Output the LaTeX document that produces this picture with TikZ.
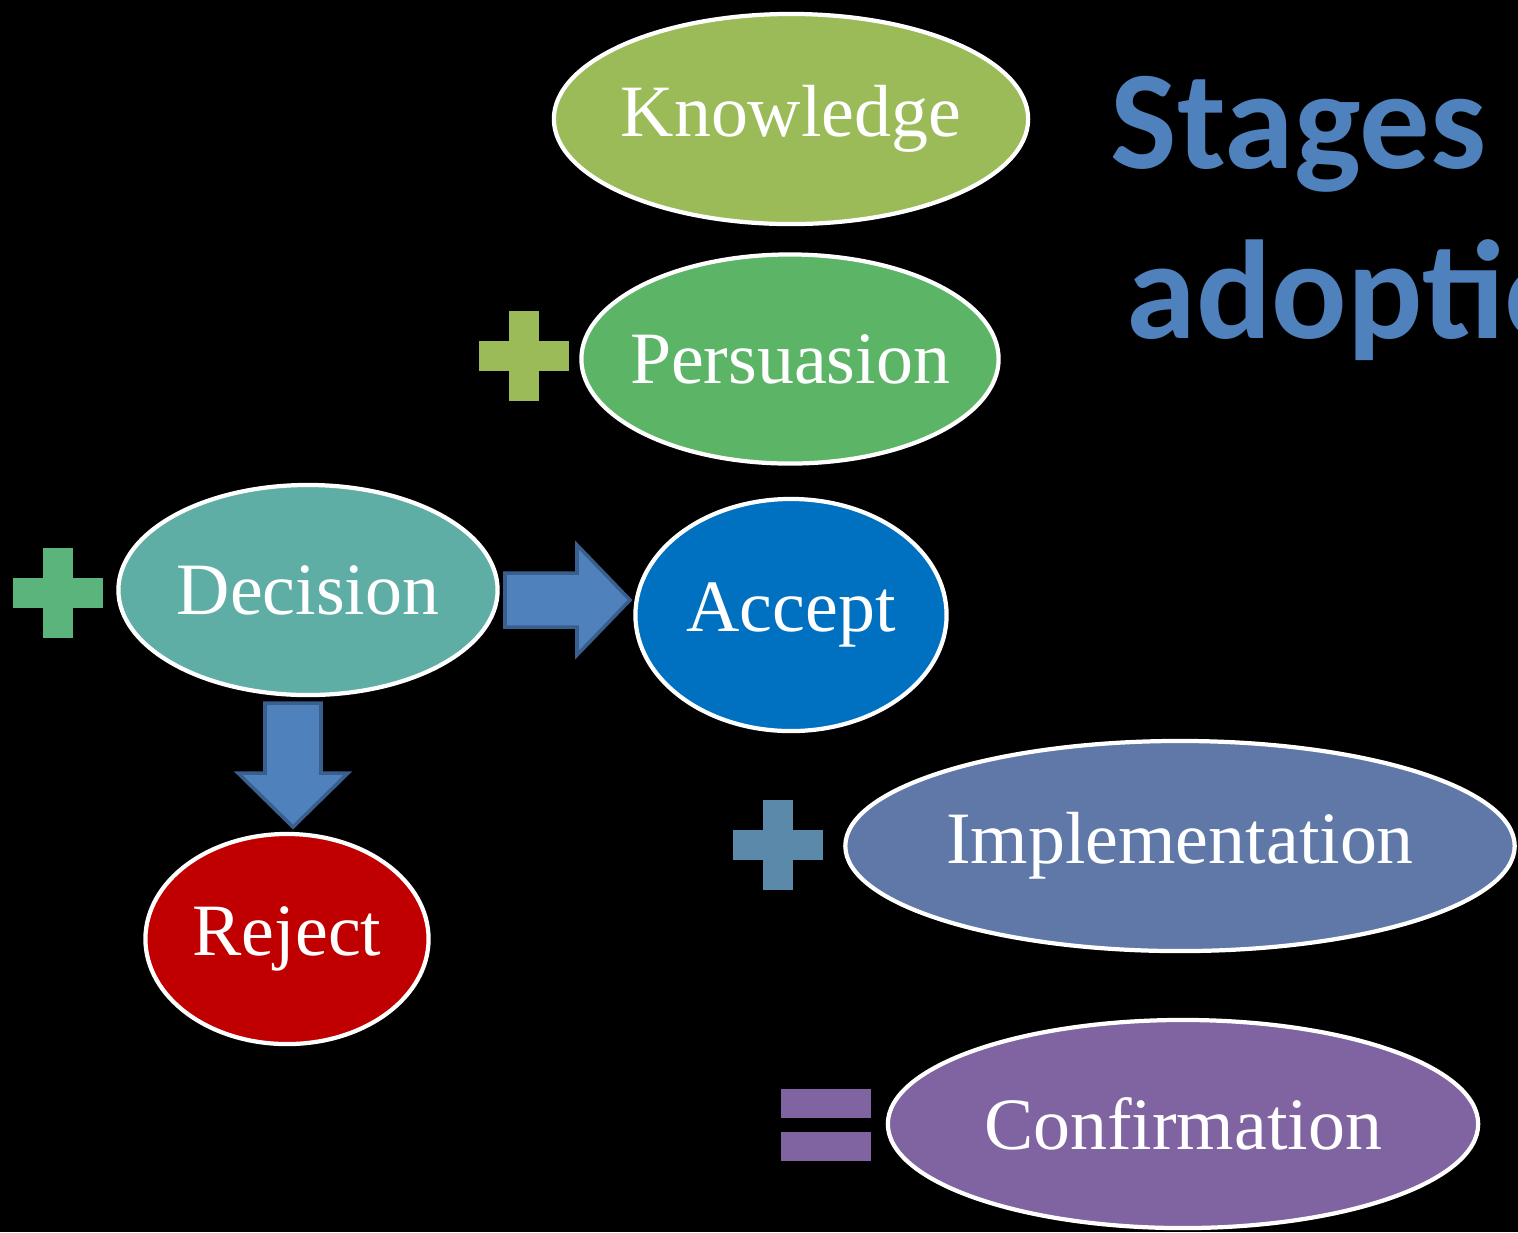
\documentclass[tikz,border=0pt]{standalone}
\usepackage{fontspec}
\setmainfont{Liberation Serif}
\newfontfamily\titlefont{Carlito}
\usetikzlibrary{shapes.geometric}

\definecolor{knowcol}{HTML}{9BBB59}
\definecolor{perscol}{HTML}{5CB467}
\definecolor{deccol}{HTML}{5FAEA6}
\definecolor{acccol}{HTML}{0070C0}
\definecolor{rejcol}{HTML}{C00000}
\definecolor{implcol}{HTML}{5F78A8}
\definecolor{confcol}{HTML}{8064A2}
\definecolor{plusgreen}{HTML}{5BB47B}
\definecolor{plussteel}{HTML}{5B89AA}
\definecolor{arrowblue}{HTML}{4F81BD}
\definecolor{arrowedge}{HTML}{3A5F8E}
\definecolor{titleblue}{HTML}{4F81BD}

% keep the ellipse at its given size, whatever the text width
\newcommand\stagelabel[1]{\makebox[0pt]{#1}}

\begin{document}
\begin{tikzpicture}[x=0.01cm, y=-0.01cm,
    stage/.style={ellipse, draw=white, line width=1.2pt, text=white, inner sep=0pt,
                  font=\fontsize{21}{25}\selectfont},
    fatarrow/.style={fill=arrowblue, draw=arrowedge, line width=1pt, line join=miter},
    title/.style={text=titleblue, inner sep=0pt, anchor=base west,
                  font=\titlefont\bfseries\fontsize{40}{48}\selectfont}]
  \fill[black] (0,0) rectangle (1518,1232);
  \clip (0,0) rectangle (1518,1232);

  \node[title] (stages) at (1110,168) {Stages of};
  \node[title] (adopt) at (1126,338) {adoption};

  \node[stage, fill=knowcol, minimum width=4.74cm, minimum height=2.10cm] (know) at (791,119) {\stagelabel{Knowledge}};
  \node[stage, fill=perscol, minimum width=4.17cm, minimum height=2.09cm] (pers) at (790,359) {\stagelabel{Persuasion}};
  \node[stage, fill=deccol, minimum width=3.79cm, minimum height=2.10cm] (dec) at (308,590) {\stagelabel{Decision}};
  \node[stage, fill=acccol, minimum width=3.11cm, minimum height=2.32cm] (acc) at (791,615) {\stagelabel{Accept}};
  \node[stage, fill=rejcol, minimum width=2.83cm, minimum height=2.10cm] (rej) at (287,939) {\stagelabel{Reject}};
  \node[stage, fill=implcol, minimum width=6.69cm, minimum height=2.10cm] (impl) at (1180,846) {\stagelabel{Implementation}};
  \node[stage, fill=confcol, minimum width=5.90cm, minimum height=2.08cm] (conf) at (1183,1124) {\stagelabel{Confirmation}};

  % plus signs
  \foreach \x/\y/\c in {524/356/knowcol, 58/593/plusgreen, 778/845/plussteel} {
    \fill[\c] (\x-45,\y-15) rectangle (\x+45,\y+15);
    \fill[\c] (\x-15,\y-45) rectangle (\x+15,\y+45);
  }
  % equals sign
  \fill[confcol] (781,1089) rectangle (871,1118);
  \fill[confcol] (781,1132) rectangle (871,1161);

  % block arrows
  \draw[fatarrow] (505,573) -- (577,573) -- (577,545) -- (630,600) -- (577,655) -- (577,627) -- (505,627) -- cycle;
  \draw[fatarrow] (265,703) -- (321,703) -- (321,773) -- (348,773) -- (293,827) -- (238,773) -- (265,773) -- cycle;
\end{tikzpicture}
\end{document}
